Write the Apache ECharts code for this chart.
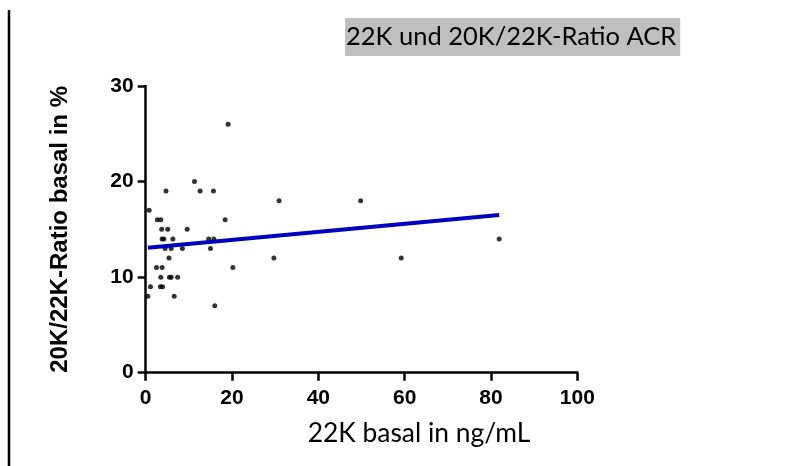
<!DOCTYPE html>
<html>
<head>
<meta charset="utf-8">
<script src="https://cdn.jsdelivr.net/npm/echarts@6/dist/echarts.min.js"></script>
<style>html,body{margin:0;padding:0;background:#fff}#c{width:791px;height:466px}</style>
</head>
<body>
<div id="c"></div>
<script>
// 22K basal (ng/mL)
const xs = [0.8,0.5,1.1, 2.7,3.5,18.4, 3.7,5.1,9.6, 3.8,4.2,6.3,14.6,15.8, 4.5,5.9,8.5,15.0, 5.4,29.7,59.2, 2.5,3.8,20.2, 3.5,5.5,5.9,7.4, 3.4,3.9, 6.6, 16.0, 4.7,12.6,15.7, 11.3, 19.1, 30.9,49.8, 81.9];
// 20K/22K ratio (%)
const ys = [17,8,9, 16,16,16, 15,15,15, 14,14,14,14,14, 13,13,13,13, 12,12,12, 11,11,11, 10,10,10,10, 9,9, 8, 7, 19,19,19, 20, 26, 18,18, 14];
// regression line endpoints
const regX = [0.5, 81.9];
const regY = [13.07, 16.5];
const xTicks = {min: 0, max: 100, interval: 20};
const yTicks = {min: 0, max: 30, interval: 10};

const chart = echarts.init(document.getElementById('c'));
const axisStyle = {
  axisLine: {show: true, lineStyle: {color: '#000', width: 2.5}},
  axisTick: {show: true, length: 8, lineStyle: {color: '#000', width: 2.5}},
  splitLine: {show: false}
};
const boldFont = {color: '#000', fontFamily: 'Arial, Liberation Sans', fontWeight: 'bold', fontSize: 21};
chart.setOption({
  animation: false,
  title: {
    text: '22K und 20K/22K-Ratio ACR',
    left: 345, top: 18,
    backgroundColor: '#bfbfbf',
    padding: [6, 4, 6, 1],
    textStyle: {fontFamily: 'Lato', fontWeight: 'normal', fontSize: 25.5, color: '#000', lineHeight: 26}
  },
  grid: {left: 145.7, right: 213.7, top: 86, bottom: 93.3, containLabel: false, outerBoundsMode: 'none'},
  xAxis: Object.assign({
    type: 'value', min: xTicks.min, max: xTicks.max, interval: xTicks.interval,
    axisLabel: Object.assign({margin: 15}, boldFont)
  }, axisStyle),
  yAxis: Object.assign({
    type: 'value', min: yTicks.min, max: yTicks.max, interval: yTicks.interval,
    name: '20K/22K-Ratio basal in %', nameLocation: 'middle', nameGap: 73, nameRotate: 90,
    nameTextStyle: {color: '#000', fontFamily: 'Arial, Liberation Sans', fontWeight: 'bold', fontSize: 24},
    axisLabel: Object.assign({margin: 12}, boldFont)
  }, axisStyle),
  graphic: [
    {type: 'line', shape: {x1: 9, y1: 10, x2: 9, y2: 466}, style: {stroke: '#000', lineWidth: 2.5}},
    {type: 'text', x: 419, y: 433, style: {text: '22K basal in ng/mL', fill: '#000', font: '26.4px Lato', textAlign: 'center', textVerticalAlign: 'middle'}}
  ],
  series: [
    {type: 'scatter', data: xs.map((x, i) => [x, ys[i]]), symbol: 'circle', symbolSize: 5,
     itemStyle: {color: '#000'}},
    {type: 'line', data: regX.map((x, i) => [x, regY[i]]), symbol: 'none',
     lineStyle: {color: '#0000c0', width: 4}}
  ]
});
</script>
</body>
</html>
